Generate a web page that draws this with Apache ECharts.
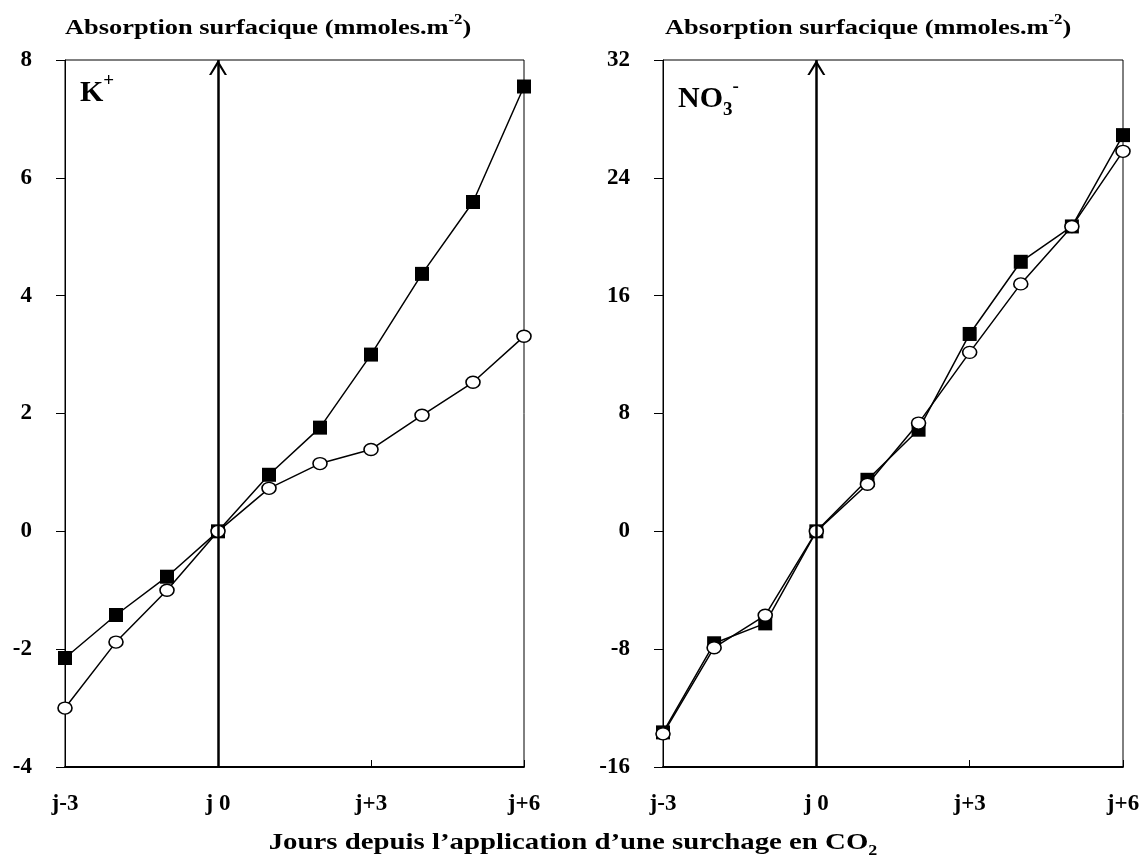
<!DOCTYPE html>
<html><head><meta charset="utf-8">
<script src="https://cdn.jsdelivr.net/npm/echarts@6/dist/echarts.min.js"></script>
<style>html,body{margin:0;padding:0;background:#fff}#c{width:1146px;height:859px}</style>
</head><body><div id="c"></div>
<script>
// ---- data ----
const days = [-3, -2, -1, 0, 1, 2, 3, 4, 5, 6];
const kSquares  = [-2.15, -1.42, -0.77, 0, 0.96, 1.76, 3.00, 4.37, 5.59, 7.55];
const kCircles  = [-3.00, -1.88, -1.00, 0, 0.73, 1.15, 1.39, 1.97, 2.53, 3.31];
const no3Squares = [-13.65, -7.6, -6.25, 0, 3.5, 6.9, 13.4, 18.3, 20.7, 26.9];
const no3Circles = [-13.75, -7.9, -5.7, 0, 3.2, 7.35, 12.15, 16.8, 20.7, 25.8];
const xTickValues = [-3, 0, 3, 6];
const xTickLabels = ['j-3', 'j 0', 'j+3', 'j+6'];
const kRange = [-4, 8, 2];
const no3Range = [-16, 32, 8];

const FONT = '"Liberation Serif", "Times New Roman", serif';
const chevron = 'path://M0,12 L7,0 L14,12 L12.2,12 L7,3.4 L1.8,12 Z';

const pairs = a => days.map((d, i) => [d, a[i]]);

function xAxisCfg(gi) {
  return {
    type: 'value', gridIndex: gi, min: -3, max: 6, interval: 3,
    axisLine: { show: true, onZero: false, lineStyle: { color: '#000', width: 1.8 } },
    axisTick: { show: true, inside: true, length: 7, lineStyle: { color: '#000', width: 1 } },
    axisLabel: { margin: 26, color: '#000', fontFamily: FONT, fontWeight: 'bold', fontSize: 23,
      formatter: v => { const i = xTickValues.indexOf(v); return i >= 0 ? xTickLabels[i] : ''; } },
    splitLine: { show: false }
  };
}
function yAxisCfg(gi, r) {
  return {
    type: 'value', gridIndex: gi, min: r[0], max: r[1], interval: r[2],
    axisLine: { show: true, onZero: false, lineStyle: { color: '#000', width: 1 } },
    axisTick: { show: true, inside: false, length: 9, lineStyle: { color: '#000', width: 1 } },
    axisLabel: { margin: 33, color: '#000', fontFamily: FONT, fontWeight: 'bold', fontSize: 23 },
    splitLine: { show: false }
  };
}
function arrowLine(range) {
  return {
    silent: true, animation: false,
    symbol: ['none', chevron], symbolSize: [18, 15], symbolOffset: [[0, 0], [0, 7.5]],
    label: { show: false },
    lineStyle: { color: '#000', width: 2.5, type: 'solid' },
    emphasis: { disabled: true },
    data: [[{ coord: [0, range[0]] }, { coord: [0, range[1]] }]]
  };
}
function sqSeries(gi, data, ml) {
  return {
    type: 'line', xAxisIndex: gi, yAxisIndex: gi, data: pairs(data),
    symbol: 'rect', symbolSize: 14, showAllSymbol: true,
    lineStyle: { color: '#000', width: 1.5 },
    itemStyle: { color: '#000', borderColor: '#000', borderWidth: 0 },
    z: 3, animation: false, markLine: ml
  };
}
function ciSeries(gi, data) {
  return {
    type: 'line', xAxisIndex: gi, yAxisIndex: gi, data: pairs(data),
    symbol: 'circle', symbolSize: [14, 12], showAllSymbol: true,
    lineStyle: { color: '#000', width: 1.5 },
    itemStyle: { color: '#fff', borderColor: '#000', borderWidth: 1.5 },
    z: 4, animation: false
  };
}
const richMain = (fs, lh) => ({ fontFamily: FONT, fontWeight: 'bold', fontSize: fs, lineHeight: lh, verticalAlign: 'middle', color: '#000' });
const richSup = fs => ({ fontFamily: FONT, fontWeight: 'bold', fontSize: fs, lineHeight: fs, verticalAlign: 'top', color: '#000' });
const richSub = fs => ({ fontFamily: FONT, fontWeight: 'bold', fontSize: fs, lineHeight: fs, verticalAlign: 'bottom', color: '#000' });
const titleRich = { t: richMain(22, 30), sup: richSup(14), sub: richSub(14) };
const xTitleRich = { t: richMain(24, 32), sup: richSup(15), sub: richSub(15) };
const ionRich = { t: richMain(30, 42), sup: richSup(19), sub: richSub(19) };
const yTitle = '{t|Absorption surfacique (mmoles.m}{sup|-2}{t|)}';

const chart = echarts.init(document.getElementById('c'), null, { renderer: 'canvas' });
chart.setOption({
  backgroundColor: '#fff',
  animation: false,
  grid: [
    { left: 65, top: 60, width: 459, height: 707, show: true, borderColor: '#000', borderWidth: 1, backgroundColor: 'transparent' },
    { left: 663, top: 60, width: 460, height: 707, show: true, borderColor: '#000', borderWidth: 1, backgroundColor: 'transparent' }
  ],
  xAxis: [xAxisCfg(0), xAxisCfg(1)],
  yAxis: [yAxisCfg(0, kRange), yAxisCfg(1, no3Range)],
  series: [
    sqSeries(0, kSquares, arrowLine(kRange)),
    ciSeries(0, kCircles),
    sqSeries(1, no3Squares, arrowLine(no3Range)),
    ciSeries(1, no3Circles)
  ],
  graphic: [
    { type: 'text', x: 65, y: 13, scaleX: 1.2, style: { text: yTitle, rich: titleRich } },
    { type: 'text', x: 665, y: 13, scaleX: 1.2, style: { text: yTitle, rich: titleRich } },
    { type: 'text', x: 80, y: 72, style: { text: '{t|K}{sup|+}', rich: ionRich } },
    { type: 'text', x: 678, y: 78, style: { text: '{t|NO}{sub|3}{sup|-}', rich: ionRich } },
    { type: 'text', x: 573, y: 843, scaleX: 1.2, style: { text: '{t|Jours depuis l\u2019application d\u2019une surchage en CO}{sub|2}', rich: xTitleRich, align: 'center', verticalAlign: 'middle', textAlign: 'center', textVerticalAlign: 'middle' } }
  ]
});
</script></body></html>
